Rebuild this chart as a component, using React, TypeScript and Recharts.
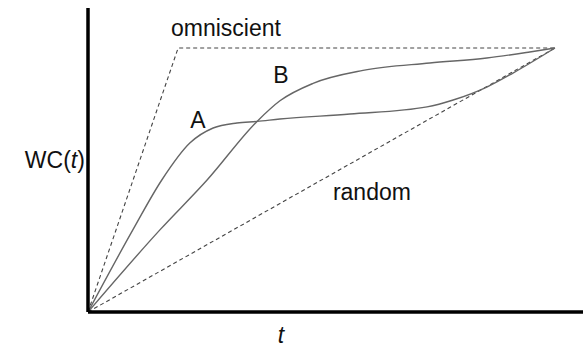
import React from 'react';
import { LineChart, Line, XAxis, YAxis, ReferenceDot } from 'recharts';

// Normalised time t (0..1) against normalised work completed WC(t) (0..1)
const curveA = [
  { t: 0, wc: 0 },
  { t: 0.096, wc: 0.311 },
  { t: 0.158, wc: 0.5 },
  { t: 0.218, wc: 0.64 },
  { t: 0.268, wc: 0.697 },
  { t: 0.319, wc: 0.716 },
  { t: 0.362, wc: 0.722 },
  { t: 0.411, wc: 0.731 },
  { t: 0.561, wc: 0.75 },
  { t: 0.726, wc: 0.777 },
  { t: 0.782, wc: 0.803 },
  { t: 0.854, wc: 0.852 },
  { t: 0.91, wc: 0.905 },
  { t: 1, wc: 1 },
];

const curveB = [
  { t: 0, wc: 0 },
  { t: 0.154, wc: 0.311 },
  { t: 0.255, wc: 0.5 },
  { t: 0.362, wc: 0.722 },
  { t: 0.411, wc: 0.8 },
  { t: 0.482, wc: 0.866 },
  { t: 0.589, wc: 0.915 },
  { t: 0.732, wc: 0.943 },
  { t: 0.854, wc: 0.962 },
  { t: 0.946, wc: 0.985 },
  { t: 1, wc: 1 },
];

const omniscient = [
  { t: 0, wc: 0 },
  { t: 0.193, wc: 1 },
  { t: 1, wc: 1 },
];

const random = [
  { t: 0, wc: 0 },
  { t: 1, wc: 1 },
];

// Annotation texts and the data positions they are centred on
const annotations = [
  { text: 'omniscient', t: 0.2955, wc: 1.076 },
  { text: 'A', t: 0.2355, wc: 0.727 },
  { text: 'B', t: 0.413, wc: 0.898 },
  { text: 'random', t: 0.608, wc: 0.4545 },
];

const FONT = '"Liberation Sans", Arial, Helvetica, sans-serif';
const FONT_SIZE = 23;

const centredText = (content: React.ReactNode) => (props: any) => {
  const vb = props.viewBox || {};
  const x = (vb.x ?? 0) + (vb.width ?? 0) / 2;
  const y = (vb.y ?? 0) + (vb.height ?? 0) / 2;
  return (
    <text
      x={x}
      y={y}
      textAnchor="middle"
      dominantBaseline="central"
      fontFamily={FONT}
      fontSize={FONT_SIZE}
      fill="#111"
    >
      {content}
    </text>
  );
};

export default function App() {
  return (
    <div style={{ position: 'absolute', left: 0, top: 0 }}>
      <LineChart
        width={583}
        height={351}
        margin={{ top: 8, right: 0, bottom: 0, left: 0 }}
      >
        <XAxis
          type="number"
          dataKey="t"
          domain={[0, 1.06]}
          allowDataOverflow
          tick={false}
          tickLine={false}
          height={39}
          axisLine={{ stroke: '#000', strokeWidth: 3.5 }}
        />
        <YAxis
          type="number"
          dataKey="wc"
          domain={[0, 1.1515]}
          allowDataOverflow
          tick={false}
          tickLine={false}
          width={88}
          axisLine={{ stroke: '#000', strokeWidth: 3.5 }}
        />
        <Line
          data={random}
          dataKey="wc"
          type="linear"
          stroke="#444"
          strokeWidth={1.1}
          strokeDasharray="4 3"
          dot={false}
          isAnimationActive={false}
        />
        <Line
          data={omniscient}
          dataKey="wc"
          type="linear"
          stroke="#444"
          strokeWidth={1.1}
          strokeDasharray="4 3"
          dot={false}
          isAnimationActive={false}
        />
        <Line
          data={curveA}
          dataKey="wc"
          type="monotone"
          stroke="#666"
          strokeWidth={1.4}
          dot={false}
          isAnimationActive={false}
        />
        <Line
          data={curveB}
          dataKey="wc"
          type="monotone"
          stroke="#666"
          strokeWidth={1.4}
          dot={false}
          isAnimationActive={false}
        />
        {annotations.map((a) => (
          <ReferenceDot
            key={a.text}
            x={a.t}
            y={a.wc}
            r={0}
            stroke="none"
            fill="none"
            ifOverflow="visible"
            label={centredText(a.text)}
          />
        ))}
        <ReferenceDot
          x={0.413}
          y={-0.088}
          r={0}
          stroke="none"
          fill="none"
          ifOverflow="visible"
          label={centredText(<tspan fontStyle="italic">t</tspan>)}
        />
        <ReferenceDot
          x={-0.071}
          y={0.576}
          r={0}
          stroke="none"
          fill="none"
          ifOverflow="visible"
          label={centredText(
            <>
              WC(<tspan fontStyle="italic">t</tspan>)
            </>
          )}
        />
      </LineChart>
    </div>
  );
}
